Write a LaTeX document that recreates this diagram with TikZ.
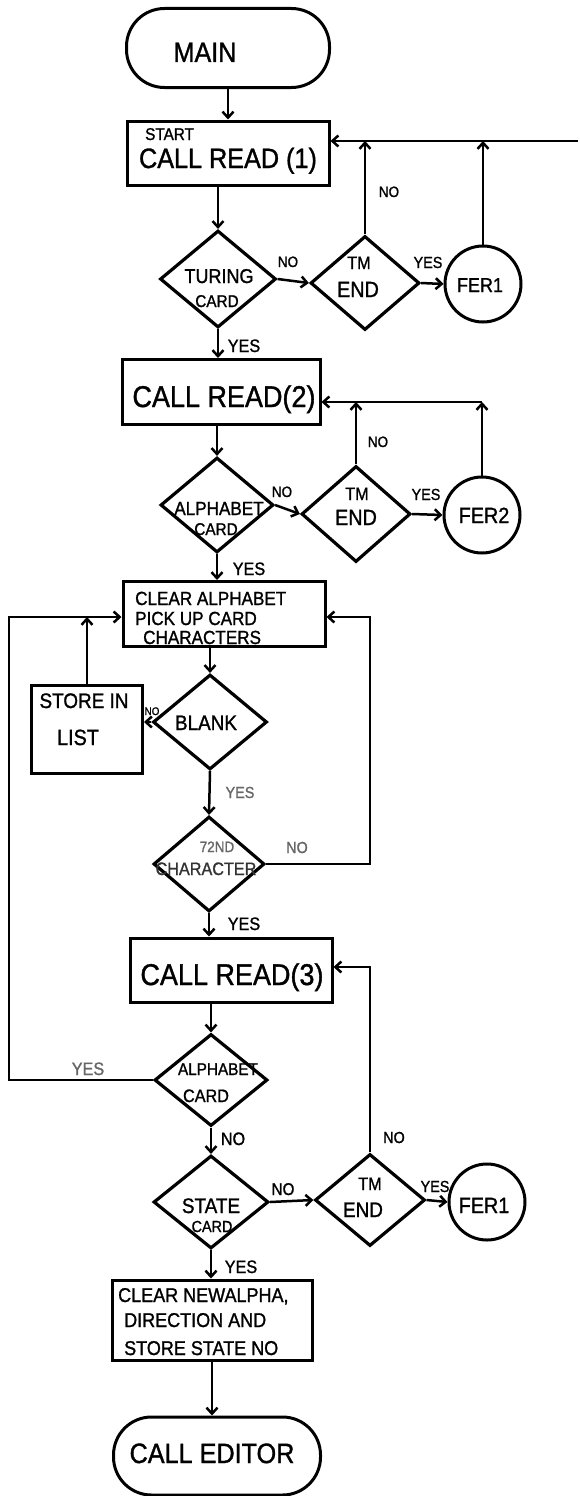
\documentclass[tikz,border=0pt]{standalone}
\usepackage{fontspec}
\setmainfont[FakeStretch=0.9,FakeBold=1.2]{Liberation Sans}
\usetikzlibrary{shapes.geometric,arrows.meta}
\begin{document}
\begin{tikzpicture}[x=1pt,y=-1pt,
  proc/.style={draw,line width=3pt,rectangle,inner sep=0pt},
  term/.style={draw,line width=3pt,rectangle,rounded corners=38pt,inner sep=0pt},
  dec/.style={draw,line width=3.2pt,diamond,inner sep=0pt},
  circ/.style={draw,line width=3pt,circle,minimum size=76pt,inner sep=0pt},
  tx/.style={anchor=base,inner sep=0pt,font=\fontsize{#1}{#1}\selectfont},
  txl/.style={anchor=base west,inner sep=0pt,font=\fontsize{#1}{#1}\selectfont},
  faded/.style={text=black!60},
  ln/.style={line width=2.5pt},
  arr/.style={line width=2.5pt,-{Straight Barb[length=6pt,width=11pt]}}]
\useasboundingbox (0,0) rectangle (579,1496);

% ---- shapes ----
\node[term,minimum width=203pt,minimum height=79pt] (main) at (228,48) {};
\node[proc,minimum width=202pt,minimum height=64pt] (box1) at (228,153) {};
\node[dec,minimum width=116pt,minimum height=97pt] (d1) at (218,279) {};
\node[dec,minimum width=109pt,minimum height=94pt] (tm1) at (365,283) {};
\node[circ] (f1) at (483,284) {};
\node[proc,minimum width=198pt,minimum height=65pt] (box2) at (221,392) {};
\node[dec,minimum width=113pt,minimum height=95pt] (d2) at (217,505) {};
\node[dec,minimum width=109pt,minimum height=96pt] (tm2) at (356,514) {};
\node[circ] (f2) at (482,515) {};
\node[proc,minimum width=202pt,minimum height=65pt] (box3) at (224,614) {};
\node[dec,minimum width=114pt,minimum height=95pt] (blank) at (210,722) {};
\node[proc,minimum width=111pt,minimum height=88pt] (store) at (87,729) {};
\node[dec,minimum width=111pt,minimum height=95pt] (d72) at (209,864) {};
\node[proc,minimum width=202pt,minimum height=64pt] (box4) at (231,970) {};
\node[dec,minimum width=113pt,minimum height=92pt] (d3) at (211,1080) {};
\node[dec,minimum width=115pt,minimum height=93pt] (state) at (211,1202) {};
\node[dec,minimum width=110pt,minimum height=92pt] (tm3) at (370,1200) {};
\node[circ] (f3) at (487,1202) {};
\node[proc,minimum width=200pt,minimum height=80pt] (box5) at (212,1320) {};
\node[term,minimum width=207pt,minimum height=78pt] (editor) at (217,1456) {};

% ---- texts in shapes ----
\node[tx=28] (tmain) at (205,62) {MAIN};
\node[txl=17] (tstart) at (145,140) {START};
\node[tx=28] (tb1) at (228,168) {CALL READ (1)};
\node[tx=20] (td1a) at (219,283) {TURING};
\node[tx=17] (td1b) at (217,307) {CARD};
\node[tx=18] (ttm1a) at (359,269) {TM};
\node[tx=22] (ttm1b) at (358,297) {END};
\node[tx=20] (tf1) at (480,292) {FER1};
\node[tx=30] (tb2) at (224,407) {CALL READ(2)};
\node[tx=19] (td2a) at (219,515) {ALPHABET};
\node[tx=17] (td2b) at (216,535) {CARD};
\node[tx=18] (ttm2a) at (357,500) {TM};
\node[tx=22] (ttm2b) at (356,525) {END};
\node[tx=22] (tf2) at (484,523) {FER2};
\node[txl=19] (tb3a) at (135,605) {CLEAR ALPHABET};
\node[txl=19] (tb3b) at (135,625) {PICK UP CARD};
\node[txl=19] (tb3c) at (143,644) {CHARACTERS};
\node[tx=21] (tblank) at (206,730) {BLANK};
\node[tx=21] (tst1) at (84,708) {STORE IN};
\node[tx=22] (tst2) at (78,745) {LIST};
\node[tx=15,faded] (t72a) at (217,852) {72ND};
\node[tx=18,text=black!80] (t72b) at (206,875) {CHARACTER};
\node[tx=30] (tb4) at (232,985) {CALL READ(3)};
\node[tx=17] (td3a) at (218,1075) {ALPHABET};
\node[tx=18] (td3b) at (206,1102) {CARD};
\node[tx=21] (tsa) at (211,1213) {STATE};
\node[tx=16] (tsb) at (212,1232) {CARD};
\node[tx=18] (ttm3a) at (370,1190) {TM};
\node[tx=21] (ttm3b) at (363,1217) {END};
\node[tx=22] (tf3) at (484,1213) {FER1};
\node[txl=20] (tb5a) at (118,1302) {CLEAR NEWALPHA,};
\node[txl=20] (tb5b) at (124,1327) {DIRECTION AND};
\node[txl=20] (tb5c) at (124,1355) {STORE STATE NO};
\node[tx=28] (ted) at (212,1463) {CALL EDITOR};

% ---- branch labels ----
\node[tx=15] (l1) at (288,267) {NO};
\node[tx=16] (l2) at (428,268) {YES};
\node[tx=15] (l3) at (389,197) {NO};
\node[tx=18] (l4) at (244,352) {YES};
\node[tx=15] (l5) at (282,497) {NO};
\node[tx=16] (l6) at (426,500) {YES};
\node[tx=15] (l7) at (378,447) {NO};
\node[tx=18] (l8) at (249,575) {YES};
\node[tx=11] (l9) at (152,715) {NO};
\node[tx=16,faded] (l10) at (240,798) {YES};
\node[tx=16,faded] (l11) at (297,853) {NO};
\node[tx=18] (l12) at (244,930) {YES};
\node[tx=18,faded] (l13) at (88,1075) {YES};
\node[tx=18] (l14) at (233,1145) {NO};
\node[tx=17] (l15) at (283,1195) {NO};
\node[tx=16] (l16) at (435,1192) {YES};
\node[tx=16] (l17) at (394,1143) {NO};
\node[tx=18] (l18) at (241,1273) {YES};

% ---- junction coordinates ----
\coordinate (r1) at (578,141);
\coordinate (r2) at (482,402);
\coordinate (lc) at (9,617);
\coordinate (rc) at (370,617);
\coordinate (rd) at (373,967);

% ---- connectors ----
\draw[arr] (main.south) -- (box1.north);
\draw[arr] (d1.north |- box1.south) -- (d1.north);
\draw[arr] (d1.east) -- (tm1.west);
\draw[arr] (tm1.east) -- (f1.west);
\draw[arr] (tm1.north) -- (tm1.north |- r1);
\draw[arr] (f1.north) -- (f1.north |- r1);
\draw[arr] (r1) -- (r1 -| box1.east);
\draw[arr] (d1.south) -- (d1.south |- box2.north);
\draw[arr] (d2.north |- box2.south) -- (d2.north);
\draw[arr] (d2.east) -- (tm2.west);
\draw[arr] (tm2.east) -- (f2.west);
\draw[arr] (tm2.north) -- (tm2.north |- r2);
\draw[arr] (f2.north) -- (r2);
\draw[arr] (r2) -- (r2 -| box2.east);
\draw[arr] (d2.south) -- (d2.south |- box3.north);
\draw[arr] (blank.north |- box3.south) -- (blank.north);
\draw[arr] (blank.west) -- (blank.west -| store.east);
\draw[arr] (store.north) -- (store.north |- lc);
\draw[arr] (blank.south) -- (d72.north);
\draw[arr] (d72.east) -- (d72.east -| rc) -- (rc) -- (rc -| box3.east);
\draw[arr] (d72.south) -- (d72.south |- box4.north);
\draw[arr] (d3.north |- box4.south) -- (d3.north);
\draw[arr] (d3.west) -- (d3.west -| lc) -- (lc) -- (lc -| box3.west);
\draw[arr] (d3.south) -- (state.north);
\draw[arr] (state.east) -- (tm3.west);
\draw[arr] (tm3.east) -- (f3.west);
\draw[arr] (tm3.north) -- (tm3.north |- rd) -- (rd -| box4.east);
\draw[arr] (state.south) -- (state.south |- box5.north);
\draw[arr] (box5.south) -- (box5.south |- editor.north);
\end{tikzpicture}
\end{document}
